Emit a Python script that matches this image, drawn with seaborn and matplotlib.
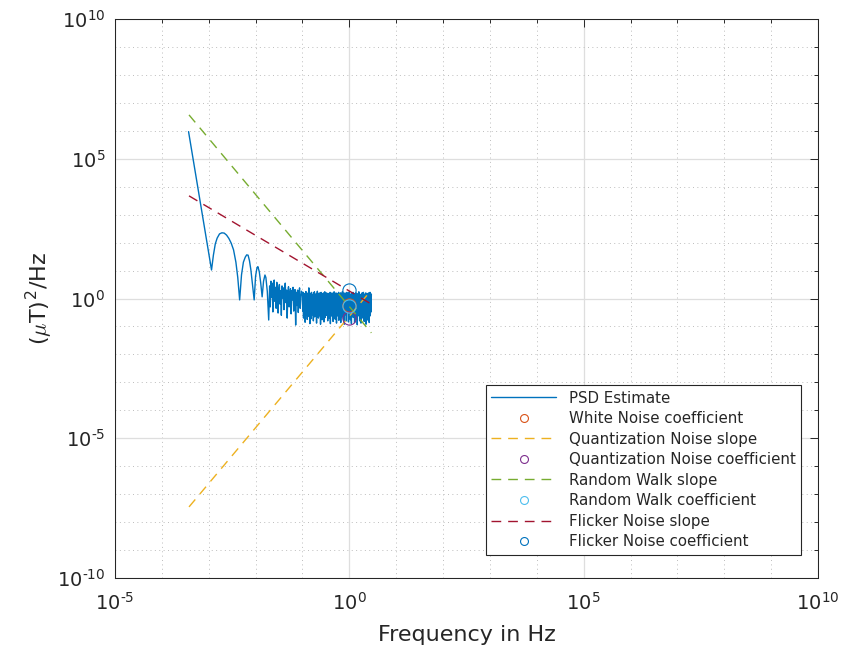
import numpy as np
import pandas as pd
import matplotlib
matplotlib.use("Agg")
import matplotlib.pyplot as plt
from matplotlib.ticker import FixedLocator, FuncFormatter, NullFormatter
import seaborn as sns

# ---- PSD estimate (log10 of frequency in Hz, log10 of PSD in (uT)^2/Hz) ----
# low-frequency part: leakage lobes
lobe_logf = [-3.43, -2.94, -2.90, -2.86, -2.82, -2.77, -2.72, -2.67, -2.62, -2.57,
             -2.52, -2.47, -2.42, -2.38, -2.34, -2.30, -2.26, -2.22, -2.19, -2.16,
             -2.13, -2.10, -2.07, -2.03, -2.00, -1.97, -1.95, -1.92, -1.89, -1.86,
             -1.83, -1.80, -1.78, -1.75, -1.72]
lobe_logp = [5.97, 1.02, 1.55, 1.95, 2.16, 2.31, 2.35, 2.34, 2.27, 2.15,
             1.98, 1.74, 1.30, 0.75, -0.05, 0.85, 1.30, 1.48, 1.56, 1.55,
             1.35, 1.02, 0.55, -0.05, 0.80, 1.10, 1.14, 0.95, 0.55, 0.06,
             0.62, 0.84, 0.75, 0.25, -0.77]

# transition region, log10 f from -1.70 to -1.02
mid_logf_range = (-1.70, -1.02)
mid_logp = [0.45, -0.30, 0.62, 0.05, 0.55, -0.48, 0.30, 0.66, -0.10, 0.40,
            -0.35, 0.58, 0.12, -0.52, 0.35, 0.50, -0.20, 0.28, -0.60, 0.45,
            0.02, 0.38, -0.40, 0.25, 0.55, -0.15, 0.30, -0.70, 0.20, 0.42,
            -0.30, 0.10, 0.35, -0.55, 0.28, -0.05, 0.40, -0.45, 0.18, 0.32,
            -0.95, 0.22, -0.25, 0.30, -0.50, 0.15, 0.38, -0.35, 0.05, 0.26]

# white-noise floor, log10 f from -1.00 to 0.47
floor_logf_range = (-1.00, 0.47)
floor_logp = [
    0.12, -0.45, -0.05, 0.22, -0.70, -0.15, 0.05, -0.55, 0.18, -0.30,
    -0.85, 0.10, -0.20, 0.25, -0.60, -0.08, 0.15, -0.40, -0.75, 0.08,
    -0.25, 0.20, -0.50, -0.02, 0.38, -0.65, -0.18, 0.12, -0.90, -0.10,
    0.18, -0.35, 0.02, -0.72, 0.22, -0.28, -0.05, 0.14, -0.58, -0.20,
    0.06, -0.80, 0.20, -0.42, -0.12, 0.24, -0.66, 0.00, -0.32, 0.16,
    -0.55, 0.10, -0.22, -0.88, 0.18, -0.08, 0.26, -0.48, -0.15, 0.04,
    -0.70, 0.15, -0.35, 0.20, -0.02, -0.62, 0.12, -0.25, -0.92, 0.08,
    0.22, -0.40, -0.10, 0.18, -0.76, 0.02, -0.30, 0.14, -0.52, 0.20,
    -0.18, -0.84, 0.10, -0.05, 0.24, -0.45, -0.68, 0.16, -0.28, 0.06,
    -0.60, 0.20, -0.12, -0.36, 0.12, -0.80, 0.00, 0.18, -0.50, -0.22,
    0.15, -0.70, 0.08, -0.30, 0.22, -0.90, -0.06, 0.14, -0.44, 0.04,
    -0.26, 0.20, -0.64, -0.10, 0.16, -0.82, 0.10, -0.38, 0.02, 0.24,
    -0.56, -0.16, 0.12, -0.74, 0.06, -0.32, 0.20, -0.48, -0.88, 0.14,
    -0.08, 0.18, -0.62, -0.20, 0.10, -0.42, 0.22, -0.78, 0.00, -0.30,
    0.16, -0.52, -0.12, 0.20, -0.86, 0.06, -0.36, 0.12, -0.66, -0.04,
    0.24, -0.46, -0.18, 0.08, -0.72, 0.18, -0.28, -0.92, 0.10, -0.14,
    0.20, -0.58, 0.02, -0.40, 0.14, -0.80, -0.10, 0.22, -0.34, 0.06,
    -0.48, 0.12, -0.22, -0.84, 0.18, -0.06, 0.24, -0.60, -0.14, 0.08,
    -0.76, 0.16, -0.32, 0.04, -0.90, 0.20, -0.18, -0.52, 0.14, -0.04,
    0.22, -0.68, -0.26, 0.10, -0.42, 0.18, -0.86, -0.08, 0.16, -0.36,
    0.06, -0.74, 0.20, -0.16, -0.56, 0.12, -0.94, 0.02, -0.28, 0.18,
    -0.62, -0.10, 0.24, -0.46, 0.08, -0.80, -0.20, 0.14, -0.38, 0.10,
    -0.88, 0.16, -0.04, -0.54, 0.20, -0.30, 0.06, -0.70, -0.12, 0.22,
    -0.44, 0.10, -0.82, -0.18, 0.16, -0.58, 0.04, -0.34, 0.20, -0.92,
    0.12, -0.24, -0.66, 0.18, -0.08, -0.50, 0.14, -0.78, 0.00, 0.20,
    -0.40, -0.86, 0.10, -0.14, 0.22, -0.62, -0.26, 0.08, -0.48, 0.16]

# ---- fitted noise slopes (end points) and coefficients at 1 Hz ----
slope_freq = [3.8e-4, 2.95]
quant_slope = [3.5e-8, 2.0]
rw_slope = [3.7e6, 0.059]
flicker_slope = [4.7e3, 0.63]

coef_freq = [1.0]
white_coef = [0.59]
quant_coef = [0.20]
rw_coef = [0.55]
flicker_coef = [2.0]

# ---- assemble PSD table ----
mid_logf = np.linspace(*mid_logf_range, len(mid_logp))
floor_logf = np.linspace(*floor_logf_range, len(floor_logp))
psd = pd.DataFrame({
    "freq": 10.0 ** np.concatenate([lobe_logf, mid_logf, floor_logf]),
    "psd": 10.0 ** np.concatenate([lobe_logp, mid_logp, floor_logp]),
})

# ---- style ----
sns.set_theme(style="white")
plt.rcParams["font.family"] = ["DejaVu Sans"]
plt.rcParams["mathtext.fontset"] = "cm"

ink = "#262626"
c_blue, c_orange, c_yellow = "#0072BD", "#D95319", "#EDB120"
c_purple, c_green, c_cyan, c_red = "#7E2F8E", "#77AC30", "#4DBEEE", "#A2142F"

fig = plt.figure(figsize=(8.41, 6.48), dpi=100)
ax = fig.add_axes([0.1367, 0.108, 0.836, 0.8627])
ax.set_xscale("log")
ax.set_yscale("log")

dash = (0, (7, 5))
sns.lineplot(data=psd, x="freq", y="psd", ax=ax, color=c_blue, lw=1.0,
             estimator=None, sort=False, label="PSD Estimate")
ax.plot(coef_freq, white_coef, "o", mfc="none", mec=c_orange, ms=9.5, mew=0.8,
        label="White Noise coefficient")
sns.lineplot(x=slope_freq, y=quant_slope, ax=ax, color=c_yellow, lw=1.0,
             linestyle=dash, estimator=None, sort=False,
             label="Quantization Noise slope")
ax.plot(coef_freq, quant_coef, "o", mfc="none", mec=c_purple, ms=9.5, mew=0.8,
        label="Quantization Noise coefficient")
sns.lineplot(x=slope_freq, y=rw_slope, ax=ax, color=c_green, lw=1.0,
             linestyle=dash, estimator=None, sort=False,
             label="Random Walk slope")
ax.plot(coef_freq, rw_coef, "o", mfc="none", mec=c_cyan, ms=9.5, mew=0.8,
        label="Random Walk coefficient")
sns.lineplot(x=slope_freq, y=flicker_slope, ax=ax, color=c_red, lw=1.0,
             linestyle=dash, estimator=None, sort=False,
             label="Flicker Noise slope")
ax.plot(coef_freq, flicker_coef, "o", mfc="none", mec=c_blue, ms=9.5, mew=0.8,
        label="Flicker Noise coefficient")


# ---- axes ----
def power_label(v, pos):
    e = int(round(np.log10(v)))
    return r"$\mathdefault{10^{%s}}$" % str(e).replace("-", "\u2010")


ax.set_xlim(1e-5, 1e10)
ax.set_ylim(1e-10, 1e10)
ax.xaxis.set_major_locator(FixedLocator([1e-5, 1e0, 1e5, 1e10]))
ax.yaxis.set_major_locator(FixedLocator([1e-10, 1e-5, 1e0, 1e5, 1e10]))
ax.xaxis.set_minor_locator(FixedLocator([10.0 ** k for k in range(-5, 11)]))
ax.yaxis.set_minor_locator(FixedLocator([10.0 ** k for k in range(-10, 11)]))
ax.xaxis.set_major_formatter(FuncFormatter(power_label))
ax.yaxis.set_major_formatter(FuncFormatter(power_label))
ax.xaxis.set_minor_formatter(NullFormatter())
ax.yaxis.set_minor_formatter(NullFormatter())

ax.grid(which="minor", color="#bdbdbd", lw=0.7, ls=(0, (1, 3.5)))
ax.grid(which="major", color="#dedede", lw=0.9, ls="-")
ax.set_axisbelow(True)

ax.tick_params(which="both", direction="in", top=True, right=True,
               color=ink, labelcolor=ink, labelsize=14, width=0.7)
ax.tick_params(which="major", length=5.8)
ax.tick_params(axis="x", which="major", pad=10)
ax.tick_params(axis="y", which="major", pad=7)
ax.tick_params(which="minor", length=2.9)
for s in ax.spines.values():
    s.set_color(ink)
    s.set_linewidth(0.75)

ax.set_xlabel("Frequency in Hz", fontsize=16, color=ink, labelpad=8)
ax.set_ylabel(r"($\mu$T)$^{\mathdefault{2}}$/Hz", fontsize=16, color=ink,
              labelpad=1)

leg = ax.legend(loc="lower right", bbox_to_anchor=(0.976, 0.041), fontsize=10.8,
                handlelength=4.3, handletextpad=0.85, labelspacing=0.37,
                borderpad=0.38, borderaxespad=0.0, markerscale=0.6,
                numpoints=1, frameon=True, fancybox=False, framealpha=1,
                edgecolor=ink, facecolor="white")
leg.get_frame().set_linewidth(0.8)
for t in leg.get_texts():
    t.set_color(ink)

fig.savefig("out.png", dpi=100, facecolor="white")
